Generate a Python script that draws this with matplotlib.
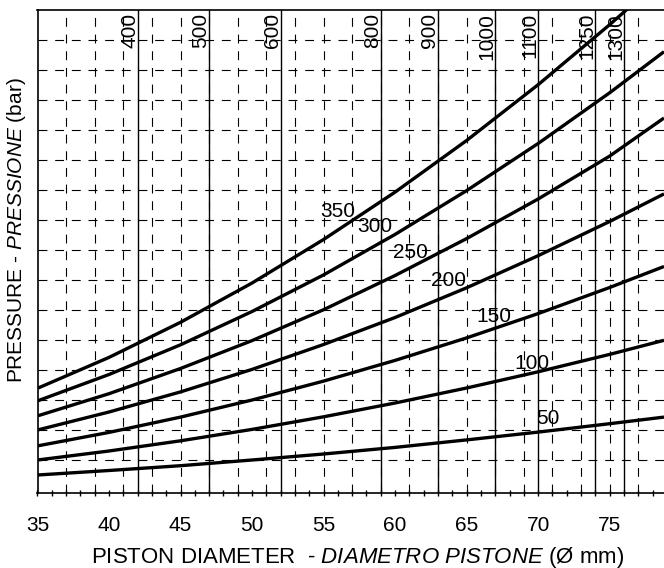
import matplotlib
matplotlib.use("Agg")
import matplotlib.pyplot as plt

diameters = [35, 40, 45, 50, 55, 60, 65, 70, 75, 78.8]

# curve values in grid divisions (the y axis has no printed scale)
curve_labels = ["50", "100", "150", "200", "250", "300", "350"]
p_050 = [-0.50, -0.35, -0.19, 0.00, 0.20, 0.42, 0.67, 0.93, 1.21, 1.43]
p_100 = [0.00, 0.30, 0.64, 1.02, 1.44, 1.90, 2.40, 2.94, 3.52, 3.99]
p_150 = [0.47, 0.92, 1.43, 2.00, 2.63, 3.32, 4.07, 4.88, 5.75, 6.45]
p_200 = [1.00, 1.60, 2.27, 3.02, 3.85, 4.75, 5.74, 6.81, 7.95, 8.87]
p_250 = [1.47, 2.21, 3.05, 3.98, 5.01, 6.15, 7.38, 8.70, 10.13, 11.40]
p_300 = [1.97, 2.85, 3.84, 4.95, 6.17, 7.52, 8.98, 10.55, 12.24, 13.61]
p_350 = [2.39, 3.42, 4.59, 5.90, 7.35, 8.93, 10.65, 12.51, 14.51, 16.11]
curves = [p_050, p_100, p_150, p_200, p_250, p_300, p_350]

# vertical reference lines and their labels along the top
ref_diameters = [42, 47, 52, 59, 63, 67, 70, 74, 76]
ref_labels = ["400", "500", "600", "800", "900", "1000", "1100", "1250", "1300"]

plt.rcParams["font.family"] = ["Liberation Sans", "DejaVu Sans"]
plt.rcParams["mathtext.fontset"] = "custom"
plt.rcParams["mathtext.rm"] = "Liberation Sans"
plt.rcParams["mathtext.it"] = "Liberation Sans:italic"

FS = 15
X0, X1 = 35, 78.8
Y0, Y1 = -1.1, 15

fig = plt.figure(figsize=(6.64, 5.68), dpi=100)
ax = fig.add_axes([37.5 / 664, 1 - 493 / 568, 1 - 37.5 / 664, (493 - 10) / 568])
ax.set_xlim(X0, X1)
ax.set_ylim(Y0, Y1)

dash = (0, (8, 7))
for v in range(37, 79, 2):
    ax.axvline(v, color="black", lw=0.8, ls=dash, zorder=1)
for h in range(0, 15):
    ax.axhline(h, color="black", lw=0.8, ls=dash, zorder=1)
for v in ref_diameters:
    ax.axvline(v, color="black", lw=1.0, zorder=2)

for vals in curves:
    ax.plot(diameters, vals, color="black", lw=2.4, zorder=4, solid_capstyle="butt")

# curve labels (centre of each label, in data units)
label_pos = {"350": (56.0, 8.27), "300": (58.6, 7.77), "250": (61.1, 6.93),
             "200": (63.7, 6.0), "150": (66.9, 4.8), "100": (69.6, 3.23),
             "50": (70.65, 1.38)}
for name in curve_labels:
    x, y = label_pos[name]
    ax.text(x, y, name, fontsize=FS, ha="center", va="center", zorder=3)

for v, lab in zip(ref_diameters, ref_labels):
    ax.annotate(lab, xy=(v, Y1), xytext=(1.0, -2), textcoords="offset points",
                rotation=90, ha="right", va="top", fontsize=FS, zorder=3)

ax.set_xticks(range(35, 79, 5))
ax.set_xticks(range(35, 79), minor=True)
ax.set_yticks([])
ax.tick_params(axis="x", which="both", direction="inout", length=5, width=1,
               labelsize=FS, pad=14)
ax.tick_params(axis="x", which="minor", length=5)
ax.spines["right"].set_visible(False)
for s in ("left", "bottom", "top"):
    ax.spines[s].set_linewidth(1.2)

fig.text(358 / 664, 1 - 557 / 568,
         r"PISTON DIAMETER  - $\mathit{DIAMETRO\ PISTONE}$ (Ø mm)",
         fontsize=16, ha="center", va="center")
fig.text(17 / 664, 1 - 230 / 568,
         r"PRESSURE - $\mathit{PRESSIONE}$ (bar)",
         fontsize=FS, ha="center", va="center", rotation=90)

fig.savefig("out.png", dpi=100)
